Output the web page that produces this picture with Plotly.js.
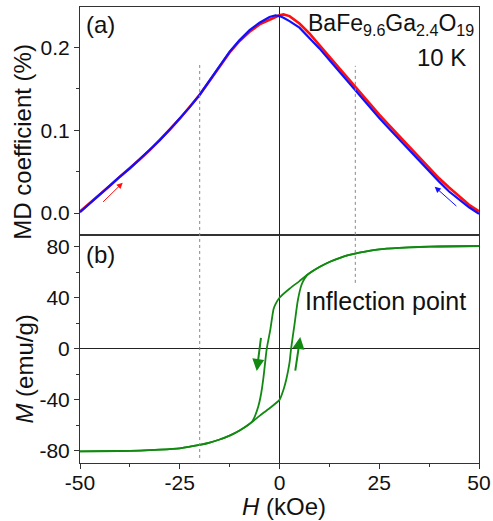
<!DOCTYPE html>
<html>
<head>
<meta charset="utf-8">
<script src="https://cdn.plot.ly/plotly-3.0.1.min.js"></script>
<style>html,body{margin:0;padding:0;background:#fff;}#chart{width:493px;height:521px;}</style>
</head>
<body>
<div id="chart"></div>
<script>
// ---- Panel (a): MD coefficient vs H ----
var mdField = [-50,-47.5,-45,-42.5,-40,-37.5,-35,-32.5,-30,-27.5,-25,-22.5,-20,-17.5,-15,-12.5,-10,-7.5,-5,-2.5,-1,0,1,2.5,5,7.5,10,12.5,15,17.5,20,22.5,25,27.5,30,32.5,35,37.5,40,42.5,45,47.5,50];
var mdUp = [0.002,0.012,0.023,0.033,0.044,0.054,0.065,0.076,0.088,0.101,0.114,0.128,0.143,0.160,0.177,0.194,0.208,0.219,0.228,0.234,0.237,0.239,0.240,0.238,0.229,0.217,0.203,0.189,0.175,0.160,0.146,0.132,0.119,0.106,0.093,0.080,0.068,0.055,0.042,0.031,0.020,0.010,0.002];
var mdDown = [0.001,0.012,0.023,0.033,0.044,0.054,0.065,0.076,0.088,0.101,0.114,0.128,0.143,0.160,0.178,0.195,0.209,0.221,0.230,0.237,0.239,0.238,0.236,0.232,0.224,0.212,0.199,0.185,0.171,0.156,0.142,0.128,0.115,0.102,0.089,0.076,0.064,0.051,0.038,0.026,0.016,0.007,-0.001];

// ---- Panel (b): M-H hysteresis loop ----
var hDown = [50,40,35,30,25,20,17.5,15,12.5,10,7,5,2.5,0,-1,-1.5,-2.3,-3.2,-4,-4.6,-5.3,-6.2,-7,-10,-12.5,-15,-17.5,-20,-25,-30,-35,-40,-50];
var mDown = [80.5,80.1,79.7,79.0,77.9,75.3,73.5,71.0,68.0,64.0,58.0,53.0,47.0,40.0,35.0,31.0,15.0,0.0,-22.0,-35.0,-45.0,-53.0,-57.5,-64.0,-68.0,-71.0,-73.5,-75.3,-77.9,-79.0,-79.7,-80.0,-80.3];
var hUp = [-50,-40,-35,-30,-25,-20,-17.5,-15,-12.5,-10,-7,-5,-2.5,0,1,1.7,2.5,2.9,3.8,4.6,5.5,6.3,7,10,12.5,15,17.5,20,25,30,35,40,50];
var mUp = [-80.3,-80.0,-79.7,-79.0,-77.9,-75.3,-73.5,-71.0,-68.0,-64.0,-57.5,-52.5,-46.5,-40.0,-32.0,-24.0,-11.0,0.0,20.0,38.0,50.0,55.0,58.0,64.0,68.0,71.0,73.5,75.3,77.9,79.0,79.7,80.1,80.5];

var inflectionH = [-20, 19];
var xTicks = [-50,-25,0,25,50];
var xTickText = ['-50','-25','0','25','50'];
var mdTicks = [0.0,0.1,0.2];
var mdTickText = ['0.0','0.1','0.2'];
var mTicks = [-80,-40,0,40,80];
var mTickText = ['-80','-40','0','40','80'];

var FONT = 'Arial, "Liberation Sans", sans-serif';
var green = '#128a12';

var traces = [
  {x: mdField, y: mdUp, xaxis:'x2', yaxis:'y2', mode:'lines', line:{color:'#ff1010', width:2.6}, hoverinfo:'skip'},
  {x: mdField, y: mdDown, xaxis:'x2', yaxis:'y2', mode:'lines', line:{color:'#1010ff', width:2.2}, hoverinfo:'skip'},
  {x: hDown, y: mDown, xaxis:'x', yaxis:'y', mode:'lines', line:{color:green, width:1.8, shape:'spline', smoothing:0.6}, hoverinfo:'skip'},
  {x: hUp, y: mUp, xaxis:'x', yaxis:'y', mode:'lines', line:{color:green, width:1.8, shape:'spline', smoothing:0.6}, hoverinfo:'skip'}
];

var axCommon = {
  showline:true, mirror:true, linecolor:'#333', linewidth:1,
  showgrid:false, ticks:'outside', ticklen:5, tickcolor:'#333', tickwidth:1,
  tickfont:{family:FONT, size:21, color:'#111'}
};

var layout = {
  width:493, height:521,
  margin:{l:80, r:14, t:7, b:58},
  paper_bgcolor:'#fff', plot_bgcolor:'#fff',
  showlegend:false,
  font:{family:FONT, color:'#111'},
  xaxis: Object.assign({}, axCommon, {
    domain:[0,1], anchor:'y', range:[-50,50], tickvals:xTicks, ticktext:xTickText,
    ticklabelstandoff:-4,
    minor:{ticks:'outside', ticklen:3, dtick:12.5, tick0:0, tickcolor:'#333'},
    zeroline:true, zerolinecolor:'#222', zerolinewidth:1
  }),
  yaxis: Object.assign({}, axCommon, {
    domain:[0,0.5], anchor:'x', range:[-89.4,89.1], tickvals:mTicks, ticktext:mTickText,
    minor:{ticks:'outside', ticklen:3, dtick:20, tick0:0, tickcolor:'#333'},
    zeroline:true, zerolinecolor:'#222', zerolinewidth:1
  }),
  xaxis2: Object.assign({}, axCommon, {
    domain:[0,1], anchor:'y2', matches:'x', range:[-50,50], showticklabels:false, ticks:'',
    zeroline:true, zerolinecolor:'#222', zerolinewidth:1
  }),
  yaxis2: Object.assign({}, axCommon, {
    domain:[0.5,1], anchor:'x2', range:[-0.0265,0.249], tickvals:mdTicks, ticktext:mdTickText,
    minor:{ticks:'outside', ticklen:3, dtick:0.05, tick0:0, tickcolor:'#333'},
    zeroline:false
  }),
  shapes:[
    {type:'line', xref:'x', yref:'paper', x0:inflectionH[0], x1:inflectionH[0], y0:0.011, y1:0.879,
     line:{color:'#888', width:1, dash:'3px,3px'}},
    {type:'line', xref:'x', yref:'paper', x0:inflectionH[1], x1:inflectionH[1], y0:0.395, y1:0.871,
     line:{color:'#888', width:1, dash:'3px,3px'}}
  ],
  annotations:[
    {xref:'paper', yref:'paper', x:0.511, y:-0.096, text:'<i>H</i> (kOe)', showarrow:false,
     font:{family:FONT, size:24, color:'#111'}, xanchor:'center', yanchor:'middle'},
    {xref:'paper', yref:'paper', x:-0.145, y:0.705, text:'MD coefficient (%)', textangle:-90, showarrow:false,
     font:{family:FONT, size:24, color:'#111'}, xanchor:'center', yanchor:'middle'},
    {xref:'paper', yref:'paper', x:-0.138, y:0.207, text:'<i>M</i> (emu/g)', textangle:-90, showarrow:false,
     font:{family:FONT, size:24, color:'#111'}, xanchor:'center', yanchor:'middle'},
    {xref:'paper', yref:'paper', x:0.011, y:0.962, text:'(a)', showarrow:false,
     font:{family:FONT, size:24, color:'#111'}, xanchor:'left', yanchor:'middle'},
    {xref:'paper', yref:'paper', x:0.011, y:0.458, text:'(b)', showarrow:false,
     font:{family:FONT, size:24, color:'#111'}, xanchor:'left', yanchor:'middle'},
    {xref:'paper', yref:'paper', x:0.993, y:0.962, text:'BaFe<sub>9.6</sub>Ga<sub>2.4</sub>O<sub>19</sub>', showarrow:false,
     font:{family:FONT, size:23, color:'#111'}, xanchor:'right', yanchor:'middle'},
    {xref:'paper', yref:'paper', x:0.972, y:0.889, text:'10 K', showarrow:false,
     font:{family:FONT, size:24, color:'#111'}, xanchor:'right', yanchor:'middle'},
    {xref:'paper', yref:'paper', x:0.560, y:0.355, text:'Inflection point', showarrow:false,
     font:{family:FONT, size:25, color:'#111'}, xanchor:'left', yanchor:'middle'},
    // red arrow (field up)
    {xref:'x2', yref:'y2', axref:'x2', ayref:'y2', x:-39.3, y:0.0366, ax:-44.6, ay:0.0117, text:'',
     showarrow:true, arrowhead:2, arrowsize:1.2, arrowwidth:1, arrowcolor:'#ff1010'},
    // blue arrow (field down)
    {xref:'x2', yref:'y2', axref:'x2', ayref:'y2', x:38.9, y:0.0318, ax:44.7, ay:0.0069, text:'',
     showarrow:true, arrowhead:2, arrowsize:1.2, arrowwidth:1, arrowcolor:'#1010ff'},
    // green arrows
    {xref:'x', yref:'y', axref:'x', ayref:'y', x:-5.7, y:-17.4, ax:-4.6, ay:9.8, text:'',
     showarrow:true, arrowhead:2, arrowsize:1.2, arrowwidth:2, arrowcolor:green},
    {xref:'x', yref:'y', axref:'x', ayref:'y', x:5.2, y:9.3, ax:3.9, ay:-18.2, text:'',
     showarrow:true, arrowhead:2, arrowsize:1.2, arrowwidth:2, arrowcolor:green}
  ]
};

Plotly.newPlot('chart', traces, layout, {staticPlot:true, displayModeBar:false});
</script>
</body>
</html>
